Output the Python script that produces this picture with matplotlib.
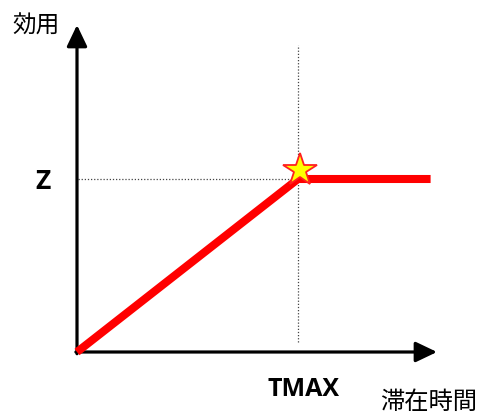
import matplotlib
matplotlib.use("Agg")
import matplotlib.pyplot as plt

plt.rcParams['font.family'] = ['Noto Sans CJK JP', 'DejaVu Sans']

# Utility as a function of stay time: rises linearly until TMAX, then stays at Z
stay_time = [0.0, 1.0, 1.6]
utility = [0.0, 1.0, 1.0]
t_max = 1.0
z_level = 1.0
x_label = "滞在時間"
y_label = "効用"
t_label = "TMAX"
z_label = "Z"

W, H = 482, 418
fig = plt.figure(figsize=(W / 100, H / 100), dpi=100)

# axes origin at (77, 352) px; 1 unit = 221 px horizontally, 173 px vertically
ox, oy = 77, 352
ux, uy = 221, 173
ax_w, ax_h = 365, 335
ax = fig.add_axes([ox / W, (H - oy) / H, ax_w / W, ax_h / H])
ax.set_xlim(0, ax_w / ux)
ax.set_ylim(0, ax_h / uy)
ax.axis('off')

x_end = (437 - ox) / ux
y_end = (oy - 25) / uy

# axes with arrows
arrow = dict(arrowstyle='-|>,head_length=1.3,head_width=0.62', lw=2.3,
             color='black', shrinkA=0, shrinkB=0)
ax.annotate('', xy=(x_end, 0), xytext=(-0.005, 0), arrowprops=arrow,
            annotation_clip=False)
ax.annotate('', xy=(0, y_end), xytext=(0, -0.01), arrowprops=arrow,
            annotation_clip=False)

# guide lines
ax.plot([t_max, t_max], [0.06, (oy - 45) / uy], color='#444444', lw=0.9,
        ls=(0, (1, 1.5)), zorder=1)
ax.plot([0.005, stay_time[-1]], [z_level, z_level], color='#444444', lw=0.9,
        ls=(0, (1, 1.5)), zorder=1)

# utility curve
ax.plot(stay_time, utility, color='#ff0000', lw=5.8, solid_capstyle='butt',
        solid_joinstyle='miter', zorder=3, clip_on=False)

# marker at the saturation point
ax.plot([t_max + 0.01], [z_level + 0.05], marker='*', markersize=25,
        markerfacecolor='#ffff00', markeredgecolor='#ff2020',
        markeredgewidth=1.3, zorder=4, clip_on=False)

# labels
fig.text(36 / W, 1 - 26 / H, y_label, fontsize=17, ha='center', va='center')
fig.text(429 / W, 1 - 402 / H, x_label, fontsize=17.5, ha='center', va='center')
fig.text(304 / W, 1 - 389 / H, t_label, fontsize=18, fontweight='bold',
         family=['Open Sans', 'DejaVu Sans'], ha='center', va='center')
fig.text(43 / W, 1 - 182 / H, z_label, fontsize=19, fontweight='bold',
         family=['Open Sans', 'DejaVu Sans'], ha='center', va='center')

fig.savefig('out.png', dpi=100)
